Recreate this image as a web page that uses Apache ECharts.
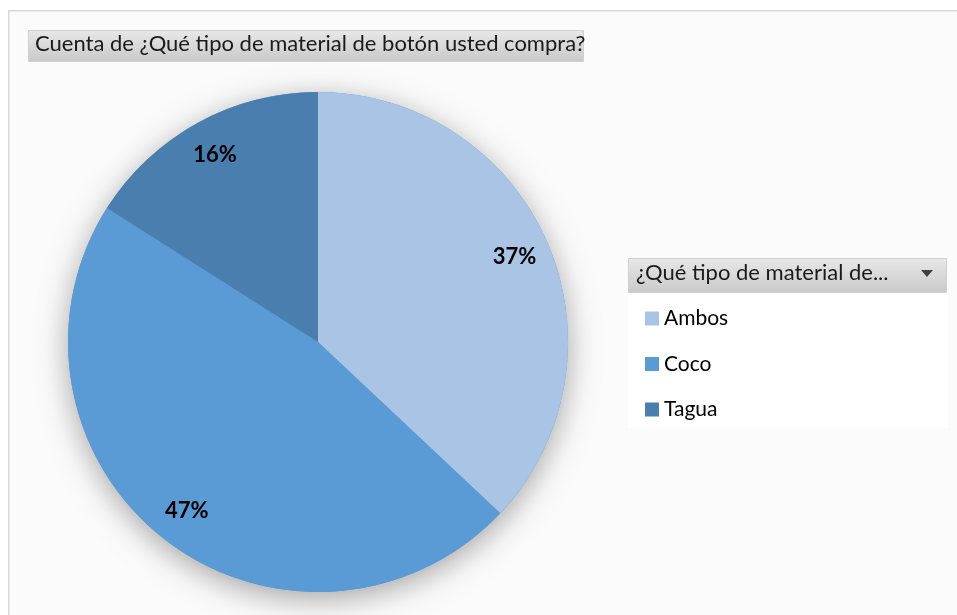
<!DOCTYPE html>
<html>
<head>
<meta charset="utf-8">
<script src="https://cdn.jsdelivr.net/npm/echarts@6/dist/echarts.min.js"></script>
<style>
html,body{margin:0;padding:0;background:#ffffff;}
#main{width:957px;height:615px;}
</style>
</head>
<body>
<div id="main"></div>
<script>
const categories = ['Ambos', 'Coco', 'Tagua'];
const values = [37, 47, 16];
const colors = ['#A9C4E5', '#5B9BD5', '#4A7EAF'];
const chartTitle = 'Cuenta de ¿Qué tipo de material de botón usted compra?';
const legendTitle = '¿Qué tipo de material de...';

const total = values.reduce((a, b) => a + b, 0);
const pieData = categories.map((c, i) => ({ name: c, value: values[i], itemStyle: { color: colors[i] } }));
const font = 'Lato, "Open Sans", "Noto Sans", sans-serif';

const chart = echarts.init(document.getElementById('main'), null, { renderer: 'canvas' });
const grayGrad = new echarts.graphic.LinearGradient(0, 0, 0, 1, [
  { offset: 0, color: '#e8e8e8' }, { offset: 1, color: '#c9c9c9' }
]);
chart.setOption({
  backgroundColor: '#ffffff',
  animation: false,
  graphic: [
    { type: 'rect', left: 8, top: 10, shape: { width: 960, height: 620 },
      style: { fill: '#fbfbfb', stroke: '#d9d9d9', lineWidth: 1.5 }, z: -10 },
    { type: 'rect', left: 28, top: 30, shape: { width: 555, height: 31 },
      style: { fill: grayGrad, stroke: '#d0d0d0', lineWidth: 1 }, z: 1 },
    { type: 'rect', left: 628, top: 292, shape: { width: 320, height: 136 },
      style: { fill: '#ffffff' }, z: 1 },
    { type: 'rect', left: 628, top: 258, shape: { width: 318, height: 34 },
      style: { fill: grayGrad, stroke: '#d0d0d0', lineWidth: 1 }, z: 1 },
    { type: 'polygon', shape: { points: [[921, 270], [933, 270], [927, 277]] },
      style: { fill: '#404040' }, z: 3 }
  ],
  title: [
    { text: chartTitle, left: 35, top: 33, padding: 0,
      textStyle: { fontFamily: font, fontSize: 22, fontWeight: 'normal', color: '#1a1a1a', letterSpacing: -0.4 }, z: 5 },
    { text: legendTitle, left: 636, top: 262, padding: 0,
      textStyle: { fontFamily: font, fontSize: 22, fontWeight: 'normal', color: '#1a1a1a', letterSpacing: -0.3 }, z: 5 }
  ],
  legend: {
    orient: 'vertical', left: 640, top: 303,
    itemWidth: 14, itemHeight: 14, itemGap: 24.5,
    icon: 'rect',
    data: categories,
    textStyle: { fontFamily: font, fontSize: 21, color: '#000000' },
    z: 5
  },
  series: [
    {
      type: 'pie', center: [318, 342], radius: [0, 250],
      data: [{ name: 'shadow', value: 1 }],
      itemStyle: { color: '#5B9BD5', shadowBlur: 30, shadowColor: 'rgba(0,0,0,0.35)', shadowOffsetY: 7 },
      label: { show: false }, labelLine: { show: false },
      emphasis: { disabled: true }, silent: true, legendHoverLink: false
    },
    {
      type: 'pie', center: [318, 342], radius: [0, 250],
      startAngle: 90, clockwise: true,
      data: pieData,
      label: { show: false }, labelLine: { show: false },
      emphasis: { disabled: true },
      silent: true
    },
    {
      type: 'pie', center: [318, 342], radius: [172, 250],
      startAngle: 90, clockwise: true,
      data: categories.map((c, i) => ({ name: c, value: values[i] })),
      itemStyle: { color: 'rgba(0,0,0,0)' },
      label: {
        show: true, position: 'inside',
        formatter: p => Math.round(p.value / total * 100) + '%',
        fontFamily: font, fontSize: 22, fontWeight: 'bold', color: '#000000'
      },
      labelLine: { show: false },
      emphasis: { disabled: true },
      silent: true,
      legendHoverLink: false
    }
  ]
});
</script>
</body>
</html>
